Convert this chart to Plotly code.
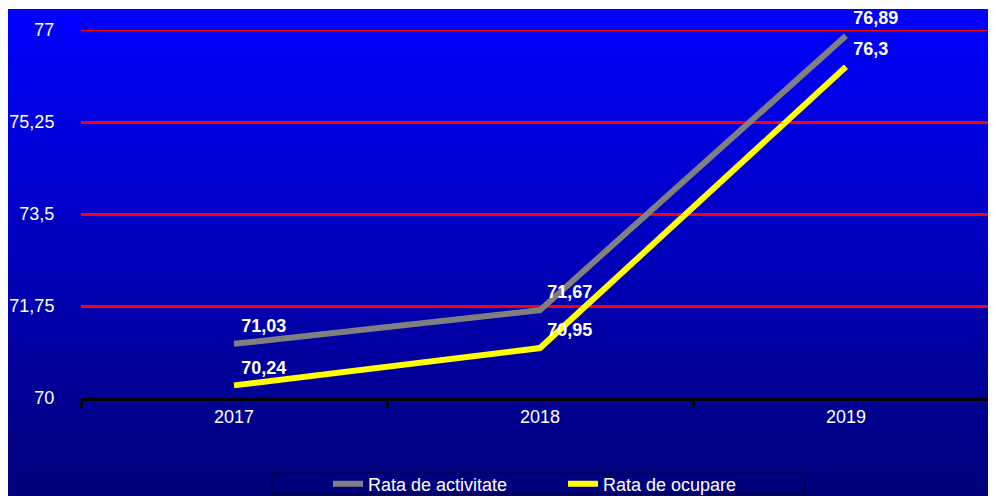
import plotly.graph_objects as go

years = ["2017", "2018", "2019"]
rata_activitate = [71.03, 71.67, 76.89]
rata_ocupare = [70.24, 70.95, 76.3]
y_ticks = [70, 71.75, 73.5, 75.25, 77]
y_tick_labels = ["70", "71,75", "73,5", "75,25", "77"]

FONT = "Liberation Sans, Arial"


def fmt(v):
    return f"{v:g}".replace(".", ",")


fig = go.Figure()

# invisible markers only to push the value labels a bit away from the points
fig.add_trace(go.Scatter(
    x=years, y=rata_activitate, name="Rata de activitate",
    mode="lines+markers+text", line=dict(color="#808080", width=6),
    marker=dict(size=10, color="rgba(0,0,0,0)"),
    text=[fmt(v) for v in rata_activitate], textposition="top right",
    textfont=dict(color="white", size=18, family=FONT),
    texttemplate="<b>%{text}</b>", cliponaxis=False
))
fig.add_trace(go.Scatter(
    x=years, y=rata_ocupare, name="Rata de ocupare",
    mode="lines+markers+text", line=dict(color="#FFFF00", width=6),
    marker=dict(size=10, color="rgba(0,0,0,0)"),
    text=[fmt(v) for v in rata_ocupare], textposition="top right",
    textfont=dict(color="white", size=18, family=FONT),
    texttemplate="<b>%{text}</b>", cliponaxis=False
))

# layout in figure pixels (page has an 8px body margin)
W, H = 996, 496
l, r, t, b = 73, 5, 22, 106
pw, ph = W - l - r, H - t - b


def px(xp):
    return (xp - l) / pw


def py(yp):
    return (H - b - yp) / ph


# blue vertical gradient behind everything
n = 80
top_px, bot_px = 2, H
for i in range(n):
    ya = top_px + (bot_px - top_px) * i / n
    yb = top_px + (bot_px - top_px) * (i + 1) / n
    f = i / (n - 1)
    c = int(255 - f * (255 - 120))
    fig.add_shape(
        type="rect", xref="paper", yref="paper", layer="below",
        x0=px(0), x1=px(W + 10), y0=py(yb), y1=py(ya) + 0.003,
        fillcolor=f"rgb(0,0,{c})", line_width=0
    )

# red gridline at the top edge (77)
fig.add_shape(type="line", xref="paper", yref="y", layer="below",
              x0=0, x1=1.05, y0=77, y1=77, line=dict(color="#FF0000", width=2.5))

# legend frame
fig.add_shape(type="rect", xref="paper", yref="paper",
              x0=px(264), x1=px(797), y0=py(486), y1=py(465),
              line=dict(color="#000033", width=1), fillcolor="rgba(0,0,0,0)")

fig.update_layout(
    width=W, height=H,
    margin=dict(l=l, r=r, t=t, b=b, autoexpand=False),
    paper_bgcolor="white",
    plot_bgcolor="rgba(0,0,0,0)",
    font=dict(family=FONT, color="white", size=18),
    xaxis=dict(
        type="category", range=[-0.5, 2.5], automargin=False,
        showgrid=False, showline=True, linecolor="black", linewidth=3,
        ticks="outside", tickson="boundaries", tickcolor="black",
        ticklen=7, tickwidth=3, tickfont=dict(size=18, color="white"),
        zeroline=False
    ),
    yaxis=dict(
        range=[70, 77], tickvals=y_ticks, ticktext=y_tick_labels,
        automargin=False,
        showgrid=True, gridcolor="#FF0000", gridwidth=2.5,
        showline=False, zeroline=False,
        ticks="outside", ticklen=22, tickcolor="rgba(0,0,0,0)",
        tickfont=dict(size=18, color="white")
    ),
    legend=dict(
        orientation="h", x=px(320), xanchor="left", y=py(476), yanchor="middle",
        borderwidth=0, bgcolor="rgba(0,0,0,0)",
        font=dict(size=18, color="white"), entrywidth=190,
        itemwidth=30
    ),
    showlegend=True
)

fig.write_html("out.html")
